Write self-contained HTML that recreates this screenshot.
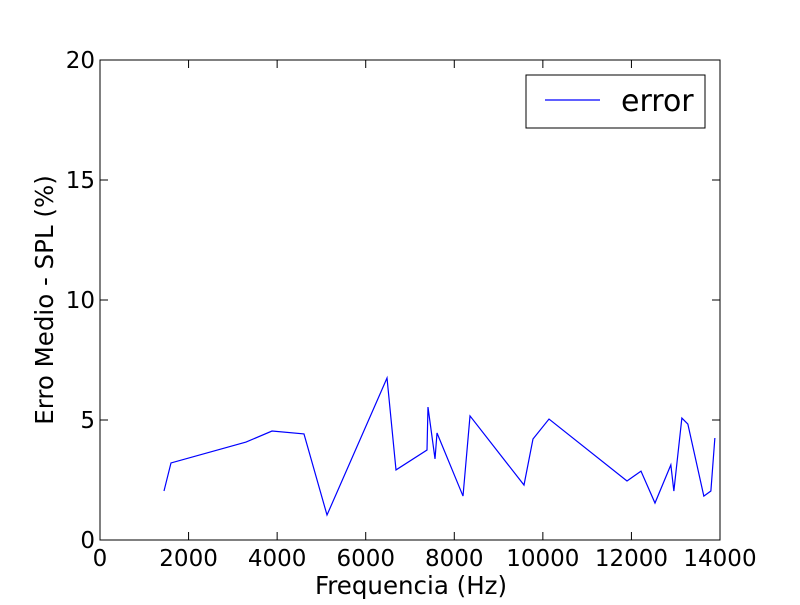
<!DOCTYPE html>
<html><head><meta charset="utf-8"><style>
body{margin:0;background:#fff}
svg text{font-family:"DejaVu Sans","Liberation Sans",sans-serif;fill:#000}
</style></head><body>
<svg id="chart" width="800" height="600" xmlns="http://www.w3.org/2000/svg">
<rect width="800" height="600" fill="#fff"/>
<g id="ticks"></g>
<polyline id="series" fill="none" stroke="#0000ff" stroke-width="1.2"/>
<rect x="100" y="60" width="620" height="480" fill="none" stroke="#000" stroke-width="1"/>
<text x="411" y="594" font-size="24.5" text-anchor="middle">Frequencia (Hz)</text>
<text transform="translate(53,300) rotate(-90)" font-size="24.5" text-anchor="middle">Erro Medio - SPL (%)</text>
<g>
<rect x="526" y="75" width="179" height="53" fill="#fff" stroke="#000" stroke-width="1"/>
<line x1="545" y1="100" x2="600" y2="100" stroke="#0000ff" stroke-width="1.2"/>
<text x="621" y="111" font-size="30">error</text>
</g>
</svg>
<script>
const freqs=[1445,1603,3297,3884,4606,5126,6481,6684,7384,7406,7565,7610,8197,8355,9574,9777,10139,11900,12216,12532,12890,12958,13139,13274,13635,13794,13884];
const errors=[2.04,3.21,4.08,4.54,4.42,1.04,6.75,2.92,3.75,5.54,3.38,4.46,1.83,5.17,2.29,4.21,5.04,2.46,2.87,1.54,3.13,2.04,5.08,4.83,1.83,2.04,4.25];
const xTicks=[0,2000,4000,6000,8000,10000,12000,14000];
const yTicks=[0,5,10,15,20];
const X=v=>100+v/14000*620, Y=v=>540-v/20*480;
const ns="http://www.w3.org/2000/svg", g=document.getElementById('ticks');
function mk(t,a){const e=document.createElementNS(ns,t);for(const k in a)e.setAttribute(k,a[k]);g.appendChild(e);return e;}
xTicks.forEach(v=>{const x=X(v);
mk('line',{x1:x,y1:540,x2:x,y2:532,stroke:'#000'});mk('line',{x1:x,y1:60,x2:x,y2:68,stroke:'#000'});
const t=mk('text',{x:x,y:566,'font-size':23,'text-anchor':'middle'});t.textContent=v;

});
yTicks.forEach(v=>{const y=Y(v);
mk('line',{x1:100,y1:y,x2:108,y2:y,stroke:'#000'});mk('line',{x1:720,y1:y,x2:712,y2:y,stroke:'#000'});
const t=mk('text',{x:95,y:y+8,'font-size':23,'text-anchor':'end'});t.textContent=v;

});
document.getElementById('series').setAttribute('points',freqs.map((f,i)=>X(f)+','+Y(errors[i])).join(' '));
</script>
</body></html>
